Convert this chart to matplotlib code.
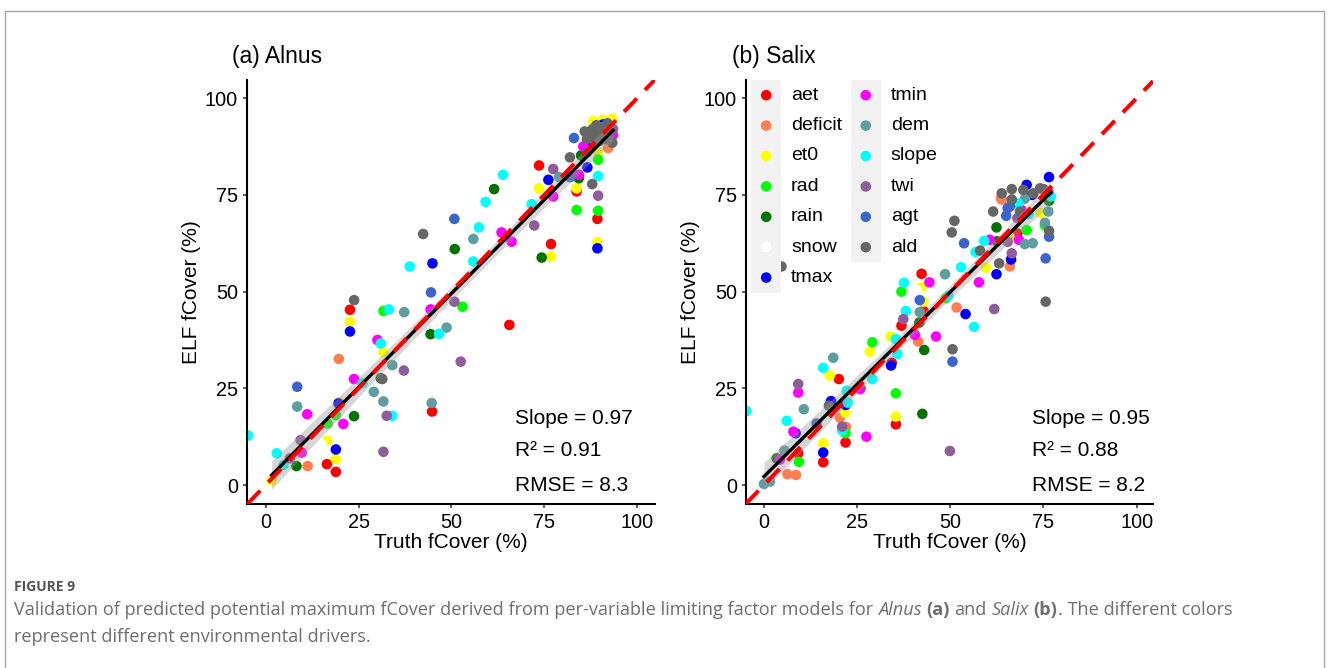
import numpy as np
import matplotlib
matplotlib.use("Agg")
import matplotlib.pyplot as plt
from matplotlib.patches import Rectangle

plt.rcParams['font.family'] = ['Liberation Sans', 'DejaVu Sans']

drivers = ['aet', 'deficit', 'et0', 'rad', 'rain', 'snow', 'tmax',
           'tmin', 'dem', 'slope', 'twi', 'agt', 'ald']
driver_colors = ['#FF0000', '#FF7F50', '#FFFF00', '#00FF00', '#007300', '#FFFFFF', '#0000FF',
                 '#FF00FF', '#5F9EA0', '#00FFFF', '#905C9B', '#3A65CC', '#666666']

# ---- (a) Alnus : (truth, elf) pairs per driver ----
alnus_aet = [(16.5, 5.4), (18.9, 3.4), (22.7, 45.3), (44.8, 19.0), (65.6, 41.4), (73.6, 82.6),
             (76.8, 62.3), (83.7, 75.9), (89.3, 68.8)]
alnus_deficit = [(11.3, 4.9), (19.7, 32.6), (92.2, 87.1), (88.5, 93.5)]
alnus_et0 = [(1.6, 1.2), (16.6, 11.5), (18.9, 6.7), (19.8, 21.5), (22.7, 42.2), (31.7, 34.3),
             (73.6, 76.7), (76.8, 59.1), (83.7, 76.7), (89.3, 62.8), (88.2, 94.1), (90.8, 94.4),
             (93.3, 94.7), (89.5, 86.0)]
alnus_rad = [(16.7, 15.9), (18.9, 18.1), (31.7, 45.0), (53.0, 46.1), (83.7, 71.1), (89.5, 84.1),
             (89.5, 70.9), (92.0, 92.0)]
alnus_rain = [(8.3, 4.9), (23.8, 17.8), (31.0, 27.6), (44.4, 39.0), (50.9, 61.0), (61.5, 76.5),
              (74.3, 58.8), (84.3, 79.3), (84.9, 85.2)]
alnus_snow = [(15.0, 10.6)]
alnus_tmax = [(18.9, 9.2), (19.6, 21.1), (22.7, 39.7), (44.9, 57.3), (76.1, 78.9), (86.6, 82.1),
              (89.3, 61.2), (90.8, 93.2), (88.0, 88.0)]
alnus_tmin = [(9.7, 8.4), (11.2, 18.3), (20.9, 15.8), (23.8, 27.4), (30.1, 37.5), (44.4, 45.4),
              (63.5, 65.3), (66.2, 62.9), (77.4, 74.6), (84.3, 80.2), (85.5, 87.5), (93.5, 90.5)]
alnus_dem = [(8.5, 20.3), (29.1, 24.1), (31.7, 21.6), (34.1, 31.0), (37.3, 44.7), (44.7, 21.2),
             (48.7, 40.7), (55.9, 63.6), (79.0, 79.6), (90.0, 90.0), (87.0, 91.0)]
alnus_slope = [(-4.7, 12.8), (3.0, 8.2), (4.8, 5.2), (26.1, 26.3), (31.0, 36.6), (33.2, 45.4),
               (34.1, 17.9), (38.8, 56.5), (46.7, 39.1), (55.9, 57.8), (57.4, 66.6), (59.2, 73.2),
               (63.9, 80.2), (71.6, 72.6), (89.5, 79.9), (87.5, 90.5), (91.0, 92.5)]
alnus_twi = [(6.5, 6.9), (9.4, 11.6), (31.7, 8.6), (32.6, 17.9), (37.2, 29.6), (50.8, 47.4),
             (52.5, 31.9), (72.3, 67.1), (77.4, 81.7), (89.5, 74.8), (93.5, 92.0), (91.0, 91.0)]
alnus_agt = [(8.5, 25.4), (44.5, 49.8), (50.8, 68.8), (81.9, 79.6), (83.0, 89.7), (86.5, 86.0),
             (92.0, 93.5)]
alnus_ald = [(23.8, 47.8), (31.4, 27.4), (42.4, 64.9), (81.9, 84.7), (87.9, 77.8), (93.3, 88.5),
             (85.9, 91.4), (87.0, 90.0), (88.0, 92.0), (89.0, 90.5), (89.5, 92.5), (90.5, 91.0),
             (91.5, 92.0), (92.5, 90.5), (88.5, 89.0), (90.0, 89.0), (91.5, 89.5), (86.5, 89.5),
             (89.0, 93.0), (92.0, 93.0)]

# ---- (b) Salix ----
salix_aet = [(9.2, 8.2), (15.9, 5.9), (20.1, 27.4), (21.9, 11.0), (34.3, 31.6), (35.4, 15.7),
             (36.9, 41.2), (42.3, 54.6), (42.8, 45.0), (68.0, 65.0)]
salix_deficit = [(6.3, 2.8), (8.6, 2.6), (20.4, 17.4), (22.0, 15.0), (41.4, 37.1), (51.7, 45.9),
                 (63.6, 74.1), (66.0, 56.5), (63.8, 73.8)]
salix_et0 = [(15.9, 10.8), (17.7, 28.3), (21.9, 18.7), (28.4, 34.5), (34.0, 38.4), (35.4, 17.7),
             (42.3, 51.1), (42.8, 47.4), (59.6, 56.2), (74.3, 70.3), (66.0, 64.0)]
salix_rad = [(9.4, 6.0), (21.9, 13.4), (29.1, 36.9), (35.4, 23.7), (36.9, 50.0), (48.8, 48.3),
             (70.5, 65.9), (75.4, 67.1), (26.0, 25.0)]
salix_rain = [(3.4, 6.9), (41.7, 42.0), (42.5, 18.4), (43.0, 34.9), (62.4, 66.6), (62.5, 63.0),
              (76.5, 73.5)]
salix_snow = [(41.1, 50.3)]
salix_tmax = [(8.5, 13.4), (15.9, 8.4), (18.0, 21.7), (21.9, 20.7), (34.1, 30.9), (54.1, 44.2),
              (62.4, 54.5), (66.3, 58.3), (70.5, 77.6), (76.5, 79.6), (72.0, 75.0)]
salix_tmin = [(4.3, 6.6), (7.9, 13.8), (9.2, 23.9), (25.8, 24.8), (27.5, 12.5), (40.5, 38.8),
              (44.4, 52.4), (46.2, 38.4), (57.7, 52.4), (60.6, 63.4), (68.4, 63.4), (69.1, 71.1)]
salix_dem = [(0.0, 0.3), (1.6, 0.9), (5.5, 8.9), (10.7, 19.6), (18.6, 32.9), (41.8, 44.7),
             (48.6, 54.5), (70.0, 62.3), (72.1, 62.5), (75.4, 67.8), (76.3, 70.7), (70.0, 74.0)]
salix_slope = [(-4.7, 19.1), (6.1, 16.6), (15.9, 30.3), (21.0, 14.1), (22.2, 24.4), (22.5, 21.3),
               (29.1, 27.4), (35.4, 37.7), (35.8, 33.9), (37.6, 52.3), (38.1, 45.0), (49.5, 48.9),
               (52.9, 56.3), (56.4, 40.9), (56.8, 60.2), (59.1, 63.1), (68.2, 72.8), (77.0, 74.6),
               (71.0, 70.0)]
salix_twi = [(9.2, 26.1), (21.0, 15.1), (37.4, 42.9), (49.9, 8.8), (61.8, 45.5), (65.4, 62.9),
             (66.5, 59.9), (76.3, 75.9), (68.0, 69.0)]
salix_agt = [(14.1, 15.9), (41.8, 47.8), (50.6, 31.9), (53.7, 62.5), (65.4, 71.6), (66.0, 72.0),
             (65.0, 69.6), (75.6, 58.6), (76.5, 64.2), (69.0, 69.5)]
salix_ald = [(4.7, 56.5), (17.4, 20.5), (50.6, 35.1), (51.1, 68.3), (50.4, 65.3), (58.0, 60.6),
             (63.1, 57.3), (61.5, 70.7), (63.8, 75.4), (66.5, 76.5), (66.5, 73.8), (69.6, 76.3),
             (74.1, 76.7), (72.3, 75.4), (68.7, 70.7), (76.5, 65.7), (75.6, 47.4), (75.0, 76.5)]

alnus_fit = (0.97, 1.0)     # slope, intercept of the black line
salix_fit = (0.954, 2.2)
alnus_stats = ['Slope = 0.97', 'R\u00b2 = 0.91', 'RMSE = 8.3']
salix_stats = ['Slope = 0.95', 'R\u00b2 = 0.88', 'RMSE = 8.2']
ticks = [0, 25, 50, 75, 100]

alnus = [alnus_aet, alnus_deficit, alnus_et0, alnus_rad, alnus_rain, alnus_snow, alnus_tmax,
         alnus_tmin, alnus_dem, alnus_slope, alnus_twi, alnus_agt, alnus_ald]
salix = [salix_aet, salix_deficit, salix_et0, salix_rad, salix_rain, salix_snow, salix_tmax,
         salix_tmin, salix_dem, salix_slope, salix_twi, salix_agt, salix_ald]

W, H = 1328, 668
fig = plt.figure(figsize=(W / 100, H / 100), dpi=100)
fig.patch.set_facecolor('white')

# outer frame
fig.add_artist(Rectangle((4.5 / W, -0.05), 1319 / W, (668 - 10.5) / H + 0.05,
                         transform=fig.transFigure, fill=False, ec='#A8A8A8', lw=1))

TICK_FS = 14.3
LAB_FS = 15
LEG_FS = 14


def panel(rect, groups, fit, stats, stat_x, xlim):
    ax = fig.add_axes(rect)
    allx = []
    ally = []
    for pts, c in zip(groups, driver_colors):
        if not pts:
            continue
        a = np.array(pts)
        allx.extend(a[:, 0])
        ally.extend(a[:, 1])
        ax.scatter(a[:, 0], a[:, 1], s=58, color=c, edgecolors='none', zorder=2)
    allx = np.array(allx)
    ally = np.array(ally)
    # regression line + 95% band
    m, b = fit
    xs = np.linspace(allx[allx > -2].min(), allx.max(), 100)
    res = ally - (m * allx + b)
    n = len(allx)
    s = np.sqrt((res ** 2).sum() / (n - 2))
    se = s * np.sqrt(1 / n + (xs - allx.mean()) ** 2 / ((allx - allx.mean()) ** 2).sum())
    ax.fill_between(xs, m * xs + b - 1.97 * se, m * xs + b + 1.97 * se,
                    color='#999999', alpha=0.4, lw=0, zorder=3)
    ax.plot(xs, m * xs + b, color='black', lw=2.4, zorder=4)
    ax.axline((0, 0), slope=1, color='#FF0000', lw=2.9, dashes=(4.6, 2.9), zorder=5)

    for txt, yv in zip(stats, [17.1, 8.9, 0.0]):
        ax.text(stat_x, yv, txt, fontsize=LAB_FS, ha='left', va='center', zorder=6)

    ax.set_xlim(*xlim)
    ax.set_ylim(-4.9, 104.7)
    ax.set_xticks(ticks)
    ax.set_yticks(ticks)
    for sp in ['top', 'right']:
        ax.spines[sp].set_visible(False)
    for sp in ['left', 'bottom']:
        ax.spines[sp].set_linewidth(1.5)
    ax.tick_params(length=3.2, width=1.1, color='#333333', labelsize=TICK_FS, pad=3.2)
    ax.set_xlabel('Truth fCover (%)', fontsize=LAB_FS, labelpad=1)
    ax.set_ylabel('ELF fCover (%)', fontsize=LAB_FS, labelpad=3)
    ax.set_facecolor('none')
    return ax


ax1 = panel([246.7 / W, 1 - 504 / H, 408.3 / W, 424 / H], alnus, alnus_fit, alnus_stats, 67.1,
            (-5.1, 104.8))
ax2 = panel([745.7 / W, 1 - 504 / H, 407.3 / W, 424 / H], salix, salix_fit, salix_stats, 72.0,
            (-4.9, 104.4))

fig.text(231.7 / W, 1 - 56.7 / H, '(a) Alnus', fontsize=16.5, ha='left', va='center')
fig.text(731.7 / W, 1 - 56.7 / H, '(b) Salix', fontsize=16.5, ha='left', va='center')

# legend (ggplot-style, two columns with grey key strips)
aw, ah = 407.3, 424.0
key_w, key_h = 29.5 / aw, 30.4 / ah
col_mark = [(766.2 - 745.7) / aw, (865.8 - 745.7) / aw]
col_text = [(791 - 745.7) / aw, (890.7 - 745.7) / aw]
per_col = [7, 6]
idx = 0
for ci in range(2):
    nrow = per_col[ci]
    ax2.add_patch(Rectangle((col_mark[ci] - key_w / 2, 1 - nrow * key_h), key_w, nrow * key_h,
                            transform=ax2.transAxes, color='#F2F2F2', lw=0, zorder=7,
                            clip_on=False))
    for r in range(nrow):
        yc = 1 - (r + 0.5) * key_h
        ax2.scatter([col_mark[ci]], [yc], s=58, color=driver_colors[idx], edgecolors='none',
                    transform=ax2.transAxes, zorder=8, clip_on=False)
        ax2.text(col_text[ci], yc, drivers[idx], transform=ax2.transAxes, fontsize=LEG_FS,
                 ha='left', va='center', zorder=8)
        idx += 1

# caption
cap_font = ['Open Sans', 'DejaVu Sans']
fig.text(14 / W, 1 - 587 / H, 'FIGURE 9', fontsize=10, color='#555555', family=cap_font,
         fontweight='bold', ha='left', va='center')

renderer = fig.canvas.get_renderer()
CAP_FS = 13.1


def text_width(txt, **kw):
    t = fig.text(0, 0, txt, fontsize=CAP_FS, family=cap_font, **kw)
    w = t.get_window_extent(renderer).width
    t.remove()
    return w


space_w = text_width('a a') - text_width('aa')
line1 = [('Validation of predicted potential maximum fCover derived from per-variable limiting '
          'factor models for', 'normal', 'normal', False),
         ('Alnus', 'italic', 'normal', True),
         ('(a)', 'normal', 'bold', True),
         ('and', 'normal', 'normal', True),
         ('Salix', 'italic', 'normal', True),
         ('(b)', 'normal', 'bold', True),
         ('. The different colors', 'normal', 'normal', False)]
xpix = 14
for txt, style, weight, gap in line1:
    if gap:
        xpix += space_w
    t = fig.text(xpix / W, 1 - 610 / H, txt, fontsize=CAP_FS, family=cap_font, style=style,
                 fontweight=weight, color='#6E6E6E', ha='left', va='center')
    xpix += t.get_window_extent(renderer).width
fig.text(14 / W, 1 - 637 / H, 'represent different environmental drivers.', fontsize=CAP_FS,
         family=cap_font, color='#6E6E6E', ha='left', va='center')

fig.savefig('out.png', dpi=100, facecolor='white')
